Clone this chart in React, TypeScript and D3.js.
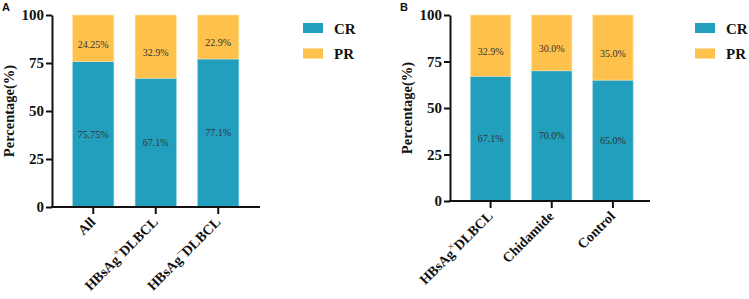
import { useEffect, useRef } from 'react';
import * as d3 from 'd3';

const seriesNames = ['CR', 'PR'];
const seriesColors = ['#229FBD', '#FEC24C'];

const groupsA = ['All', 'HBsAg+DLBCL', 'HBsAg-DLBCL'];
const crA = [75.75, 67.1, 77.1];
const prA = [24.25, 32.9, 22.9];
const crLabelsA = ['75.75%', '67.1%', '77.1%'];
const prLabelsA = ['24.25%', '32.9%', '22.9%'];

const groupsB = ['HBsAg×DLBCL', 'Chidamide', 'Control'];
const crB = [67.1, 70.0, 65.0];
const prB = [32.9, 30.0, 35.0];
const crLabelsB = ['67.1%', '70.0%', '65.0%'];
const prLabelsB = ['32.9%', '30.0%', '35.0%'];

const yTicks = [0, 25, 50, 75, 100];

const serif = 'Liberation Serif, Times New Roman, Times, serif';

interface PanelOpts {
  letter: string;
  groups: string[];
  cr: number[];
  pr: number[];
  crLabels: string[];
  prLabels: string[];
  axisX: number;
  axisEnd: number;
  bandStart: number;
  bandEnd: number;
  yTop: number;
  yBottom: number;
  legendX: number;
}

function drawPanel(svg: d3.Selection<SVGSVGElement, unknown, null, undefined>, o: PanelOpts) {
  const g = svg.append('g').style('font-family', serif);

  const x = d3.scaleBand<string>()
    .domain(o.groups)
    .range([o.bandStart, o.bandEnd])
    .paddingInner(0.34)
    .paddingOuter(0.17);

  const y = d3.scaleLinear().domain([0, 100]).range([o.yBottom, o.yTop]);

  const rows = o.groups.map((name, i) => ({ name, CR: o.cr[i], PR: o.pr[i] }));
  const stacked = d3.stack<{ name: string; CR: number; PR: number }>()
    .keys(seriesNames)(rows);

  // stacked bars
  stacked.forEach((layer, li) => {
    g.selectAll(null)
      .data(layer)
      .enter()
      .append('rect')
      .attr('x', d => x(d.data.name)!)
      .attr('width', x.bandwidth())
      .attr('y', d => y(d[1]))
      .attr('height', d => y(d[0]) - y(d[1]))
      .attr('fill', seriesColors[li])
      .attr('stroke', li === 0 ? '#8fd0e0' : '#ffe3a8')
      .attr('stroke-width', 0.6);
  });

  // value labels
  const labels = [o.crLabels, o.prLabels];
  const offsets = [0, 6];
  stacked.forEach((layer, li) => {
    g.selectAll(null)
      .data(layer)
      .enter()
      .append('text')
      .attr('x', d => x(d.data.name)! + x.bandwidth() / 2)
      .attr('y', d => y((d[0] + d[1]) / 2) + offsets[li])
      .attr('dy', '0.35em')
      .attr('text-anchor', 'middle')
      .style('font-family', serif)
      .attr('font-size', 10)
      .attr('fill', '#333')
      .text((d, i) => labels[li][i]);
  });

  // y axis
  const yAxis = g.append('g')
    .attr('transform', `translate(${o.axisX},0)`)
    .call(d3.axisLeft(y).tickValues(yTicks).tickSize(6).tickSizeOuter(0).tickPadding(2));
  yAxis.attr('font-family', null);
  yAxis.select('.domain').attr('stroke', '#111').attr('stroke-width', 2);
  yAxis.selectAll('.tick line').attr('stroke', '#111').attr('stroke-width', 2);
  yAxis.selectAll('.tick text')
    .style('font-family', serif)
    .attr('font-weight', 'bold')
    .attr('font-size', 15)
    .attr('fill', '#111');

  // x axis
  const xAxis = g.append('g')
    .attr('transform', `translate(0,${o.yBottom})`)
    .call(d3.axisBottom(x).tickSize(7).tickSizeOuter(0).tickFormat(() => ''));
  xAxis.select('.domain').remove();
  xAxis.selectAll('.tick line').attr('stroke', '#111').attr('stroke-width', 2);
  g.append('line')
    .attr('x1', o.axisX - 1)
    .attr('x2', o.axisEnd)
    .attr('y1', o.yBottom)
    .attr('y2', o.yBottom)
    .attr('stroke', '#111')
    .attr('stroke-width', 2);

  // rotated category labels
  o.groups.forEach(name => {
    const cx = x(name)! + x.bandwidth() / 2;
    const t = g.append('text')
      .attr('transform', `translate(${cx + 3},${o.yBottom + 16}) rotate(-45)`)
      .attr('text-anchor', 'end')
      .style('font-family', serif)
      .attr('font-weight', 'bold')
      .attr('font-size', 14)
      .attr('fill', '#111');
    const m = name.match(/^(HBsAg)([+\-×])(DLBCL)$/);
    if (m) {
      t.append('tspan').text(m[1]);
      t.append('tspan')
        .attr('dy', -6)
        .attr('font-size', 10)
        .attr('font-weight', 'normal')
        .text(m[2] === '-' ? '−' : m[2]);
      t.append('tspan').attr('dy', 6).text(m[3]);
    } else {
      t.text(name);
    }
  });

  // y title
  g.append('text')
    .attr('transform', `translate(${o.axisX - 38},${(o.yTop + o.yBottom) / 2}) rotate(-90)`)
    .attr('text-anchor', 'middle')
    .style('font-family', serif)
    .attr('font-weight', 'bold')
    .attr('font-size', 14.5)
    .attr('fill', '#111')
    .text('Percentage(%)');

  // panel letter
  g.append('text')
    .attr('x', o.axisX - 50)
    .attr('y', 11)
    .style('font-family', 'Liberation Sans, Arial, sans-serif')
    .attr('font-weight', 'bold')
    .attr('font-size', 11)
    .attr('fill', '#111')
    .text(o.letter);

  // legend
  const legend = g.append('g').attr('transform', `translate(${o.legendX},23)`);
  seriesNames.forEach((s, i) => {
    legend.append('rect')
      .attr('x', 0)
      .attr('y', i * 25.5)
      .attr('width', 20)
      .attr('height', 10)
      .attr('fill', seriesColors[i]);
    legend.append('text')
      .attr('x', 31)
      .attr('y', i * 25.5 + 10.5)
      .style('font-family', serif)
      .attr('font-weight', 'bold')
      .attr('font-size', 15)
      .attr('fill', '#111')
      .text(s);
  });
}

export default function App() {
  const svgRef = useRef<SVGSVGElement>(null);

  useEffect(() => {
    if (!svgRef.current) return;
    const svg = d3.select(svgRef.current);
    svg.selectAll('*').remove();

    drawPanel(svg, {
      letter: 'A', groups: groupsA, cr: crA, pr: prA, crLabels: crLabelsA, prLabels: prLabelsA,
      axisX: 52, axisEnd: 260, bandStart: 62, bandEnd: 249.5, yTop: 15, yBottom: 207, legendX: 303,
    });
    drawPanel(svg, {
      letter: 'B', groups: groupsB, cr: crB, pr: prB, crLabels: crLabelsB, prLabels: prLabelsB,
      axisX: 450, axisEnd: 650, bandStart: 460, bandEnd: 643.5, yTop: 15, yBottom: 201, legendX: 695,
    });
  }, []);

  return (
    <svg
      ref={svgRef}
      width={749}
      height={299}
      style={{ position: 'absolute', left: 0, top: 0, background: '#fff' }}
    />
  );
}
